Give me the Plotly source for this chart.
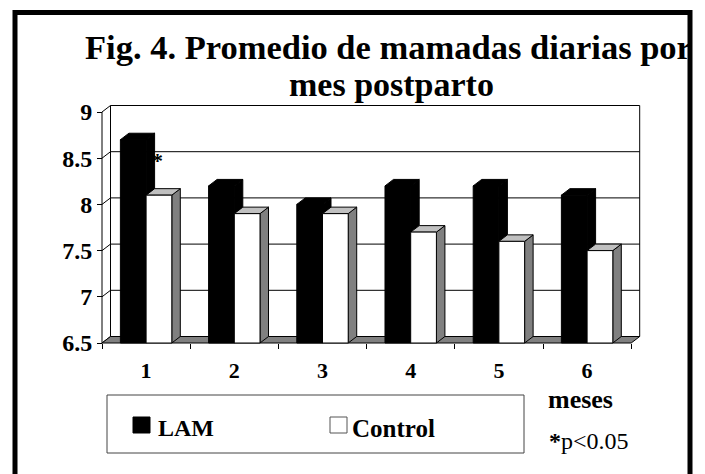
import plotly.graph_objects as go

# ---------------- data ----------------
months = ["1", "2", "3", "4", "5", "6"]
lam = [8.7, 8.2, 8.0, 8.2, 8.2, 8.1]
control = [8.1, 7.9, 7.9, 7.7, 7.6, 7.5]
y_tickvals = [6.5, 7, 7.5, 8, 8.5, 9]
y_ticktext = ["6.5", "7", "7.5", "8", "8.5", "9"]
series_names = ["LAM", "Control"]
title_lines = ["Fig. 4. Promedio de mamadas diarias por", "mes postparto"]
x_title = "meses"
note_star = "*"
note_text = "<b>*</b>p&lt;0.05"

# ---------------- layout geometry (page pixels) ----------------
W, H = 705, 474
OFF = 8                                   # page offset of the figure div
L, R, T, B = 96, 648, 100, 348            # plot area in page pixels
X0PX, CW = 102, 88.2                      # page pixel of x=-0.5, px per category
Y0PX, YU = 343, 92.4                      # page pixel of y=6.5, px per unit
YMIN, YMAX = 6.5, 9.0
DXP, DYP = 8.5, 6.5                       # 3-D depth in pixels
DX, DY = DXP / CW, DYP / YU               # depth in data units
BARGAP = 0.417
BW = (1 - BARGAP) / 2
FONT = "Liberation Serif, Times New Roman, serif"

xrange = [-0.5 - (X0PX - L) / CW, -0.5 + (R - X0PX) / CW]
yrange = [YMIN - (B - Y0PX) / YU, YMIN + (Y0PX - T) / YU]


def px_x(p):
    return (p - L) / (R - L)


def px_y(p):
    return (B - p) / (B - T)


xs = list(range(len(months)))
x_lo, x_hi = -0.5, len(months) - 0.5

shapes = []
# back wall
shapes.append(dict(type="rect", xref="x", yref="y", layer="below",
                   x0=x_lo + DX, x1=x_hi + DX, y0=YMIN + DY, y1=YMAX + DY,
                   fillcolor="white", line=dict(color="black", width=1)))
# gridlines on back wall + side-wall diagonals
for v in y_tickvals:
    if YMIN < v < YMAX:
        shapes.append(dict(type="line", xref="x", yref="y", layer="below",
                           x0=x_lo + DX, x1=x_hi + DX, y0=v + DY, y1=v + DY,
                           line=dict(color="black", width=1)))
    shapes.append(dict(type="line", xref="x", yref="y", layer="below",
                       x0=x_lo, x1=x_lo + DX, y0=v, y1=v + DY,
                       line=dict(color="black", width=1)))
# floor
shapes.append(dict(type="path", xref="x", yref="y", layer="below",
                   path=f"M{x_lo},{YMIN} L{x_hi},{YMIN} L{x_hi + DX},{YMIN + DY} L{x_lo + DX},{YMIN + DY} Z",
                   fillcolor="#808080", line=dict(color="black", width=1)))
# front value axis line
shapes.append(dict(type="line", xref="x", yref="y", layer="below",
                   x0=x_lo, x1=x_lo, y0=YMIN, y1=YMAX,
                   line=dict(color="black", width=1)))


def faces(xl, xr, v, side_col, top_col):
    out = []
    out.append(dict(type="path", xref="x", yref="y", layer="below",
                    path=f"M{xr},{YMIN} L{xr + DX},{YMIN + DY} L{xr + DX},{v + DY} L{xr},{v} Z",
                    fillcolor=side_col, line=dict(color="black", width=1)))
    out.append(dict(type="path", xref="x", yref="y", layer="below",
                    path=f"M{xl},{v} L{xl + DX},{v + DY} L{xr + DX},{v + DY} L{xr},{v} Z",
                    fillcolor=top_col, line=dict(color="black", width=1)))
    return out


for i, v in zip(xs, lam):
    shapes += faces(i - BW, i, v, "black", "black")
for i, v in zip(xs, control):
    shapes += faces(i, i + BW, v, "#808080", "#c0c0c0")

# outer frame
shapes.append(dict(type="rect", xref="paper", yref="paper",
                   x0=px_x(15), x1=px_x(690), y0=px_y(12.5), y1=px_y(490),
                   line=dict(color="black", width=5), fillcolor="rgba(0,0,0,0)"))
# legend box and swatches
shapes.append(dict(type="rect", xref="paper", yref="paper",
                   x0=px_x(107), x1=px_x(524), y0=px_y(395), y1=px_y(453),
                   line=dict(color="#444444", width=1), fillcolor="white"))
shapes.append(dict(type="rect", xref="paper", yref="paper",
                   x0=px_x(133), x1=px_x(150), y0=px_y(417), y1=px_y(433),
                   line=dict(color="black", width=1), fillcolor="black"))
shapes.append(dict(type="rect", xref="paper", yref="paper",
                   x0=px_x(330), x1=px_x(347), y0=px_y(417), y1=px_y(433),
                   line=dict(color="#555555", width=1), fillcolor="white"))

fig = go.Figure()
fig.add_trace(go.Bar(x=xs, y=[v - YMIN for v in lam], base=YMIN, name=series_names[0],
                     marker=dict(color="black", line=dict(color="black", width=1)),
                     customdata=lam, hovertemplate="%{customdata}<extra>LAM</extra>"))
fig.add_trace(go.Bar(x=xs, y=[v - YMIN for v in control], base=YMIN, name=series_names[1],
                     marker=dict(color="white", line=dict(color="black", width=1)),
                     customdata=control, hovertemplate="%{customdata}<extra>Control</extra>"))

annotations = [
    dict(text=f"<b>{title_lines[0]}</b>", x=px_x(388), y=px_y(47), xref="paper", yref="paper",
         xanchor="center", yanchor="middle", showarrow=False,
         font=dict(family=FONT, size=34.5, color="black")),
    dict(text=f"<b>{title_lines[1]}</b>", x=px_x(391), y=px_y(84), xref="paper", yref="paper",
         xanchor="center", yanchor="middle", showarrow=False,
         font=dict(family=FONT, size=34, color="black")),
    dict(text=f"<b>{x_title}</b>", x=px_x(580), y=px_y(399), xref="paper", yref="paper",
         xanchor="center", yanchor="middle", showarrow=False,
         font=dict(family=FONT, size=26, color="black")),
    dict(text=note_text, x=px_x(589), y=px_y(441), xref="paper", yref="paper",
         xanchor="center", yanchor="middle", showarrow=False,
         font=dict(family=FONT, size=24, color="black")),
    dict(text=f"<b>{series_names[0]}</b>", x=px_x(156), y=px_y(428), xref="paper", yref="paper",
         xanchor="left", yanchor="middle", showarrow=False,
         font=dict(family=FONT, size=24, color="black")),
    dict(text=f"<b>{series_names[1]}</b>", x=px_x(350), y=px_y(428), xref="paper", yref="paper",
         xanchor="left", yanchor="middle", showarrow=False,
         font=dict(family=FONT, size=25, color="black")),
    dict(text=f"<b>{note_star}</b>", x=xs[0] + 0.04, y=8.48, xref="x", yref="y",
         xanchor="left", yanchor="middle", showarrow=False,
         font=dict(family=FONT, size=22, color="black")),
]

fig.update_layout(
    width=W, height=H, autosize=False,
    margin=dict(l=L - OFF, r=W - (R - OFF), t=T - OFF, b=H - (B - OFF), pad=0),
    paper_bgcolor="white", plot_bgcolor="rgba(0,0,0,0)",
    barmode="group", bargap=BARGAP, bargroupgap=0,
    showlegend=False,
    shapes=shapes, annotations=annotations,
    xaxis=dict(range=xrange, anchor="free", position=px_y(Y0PX),
               tickmode="array", tickvals=xs, ticktext=[f"<b>{m}</b>" for m in months],
               ticks="", showline=False, showgrid=False, zeroline=False,
               ticklabelstandoff=12,
               tickfont=dict(family=FONT, size=22, color="black"),
               minor=dict(tickmode="array", tickvals=[i - 0.5 for i in range(len(months) + 1)],
                          ticks="outside", ticklen=5, tickwidth=1, tickcolor="black", showgrid=False),
               fixedrange=True),
    yaxis=dict(range=yrange, anchor="free", position=px_x(X0PX),
               tickmode="array", tickvals=y_tickvals, ticktext=[f"<b>{t}</b>" for t in y_ticktext],
               ticks="outside", ticklen=5, tickwidth=1, tickcolor="black",
               showline=False, showgrid=False, zeroline=False,
               tickfont=dict(family=FONT, size=24, color="black"),
               fixedrange=True),
)

fig.write_html("out.html")
